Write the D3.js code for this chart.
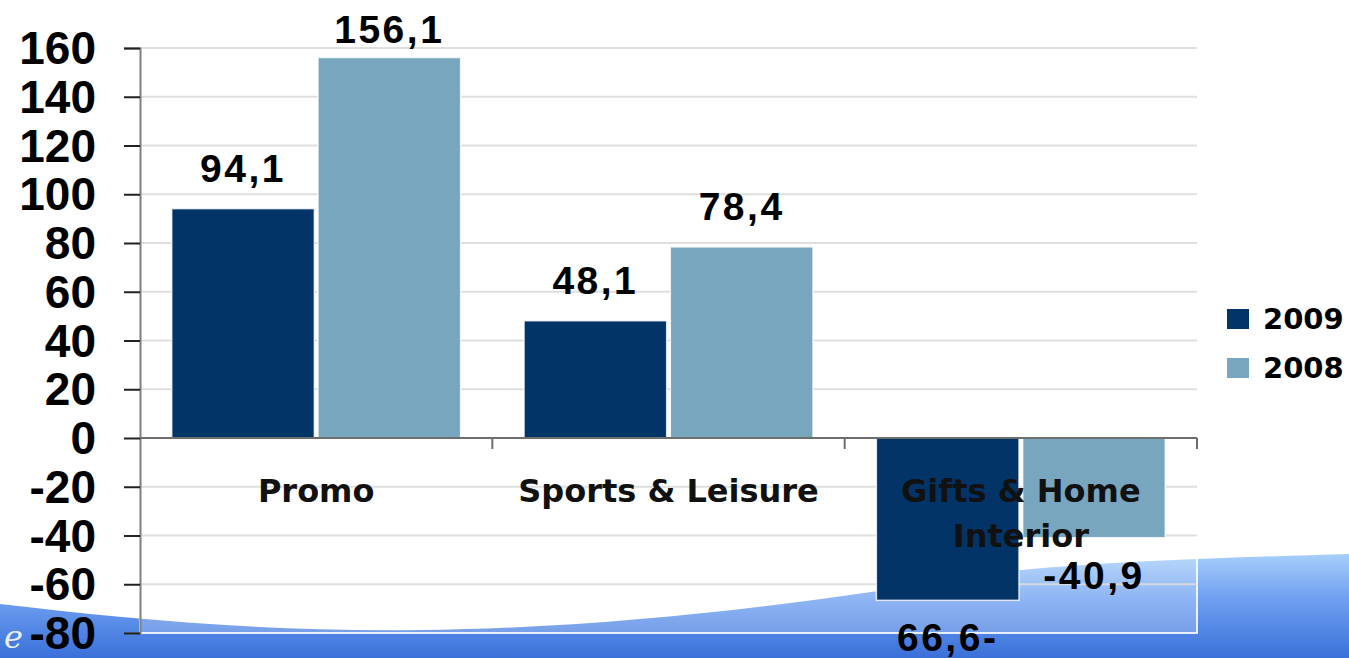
<!DOCTYPE html>
<html>
<head>
<meta charset="utf-8">
<script src="https://cdn.jsdelivr.net/npm/d3@7"></script>
<style>
  html, body { margin: 0; padding: 0; background: #ffffff; overflow: hidden; }
  svg { display: block; }
</style>
</head>
<body>
<div id="winArea"></div>
<script>
// chart data
const categories = ["Promo", "Sports & Leisure", "Gifts & Home Interior"];
const categoryLines = [["Promo"], ["Sports & Leisure"], ["Gifts & Home", "Interior"]];
const seriesNames = ["2009", "2008"];
const values2009 = [94.1, 48.1, -66.6];
const values2008 = [156.1, 78.4, -40.9];
const labels2009 = ["94,1", "48,1", "66,6-"];
const labels2008 = ["156,1", "78,4", "-40,9"];
const yTicks = [-80, -60, -40, -20, 0, 20, 40, 60, 80, 100, 120, 140, 160];

const colors = ["#033468", "#78a6bf"];

const W = 1349, H = 658;
const plot = { left: 140, right: 1197, top: 48, bottom: 633 };

const svg = d3.select("#winArea")
    .append("svg")
    .attr("width", W)
    .attr("height", H);

// background swoosh
const defs = svg.append("defs");
const grad = defs.append("linearGradient")
    .attr("id", "swoosh")
    .attr("gradientUnits", "userSpaceOnUse")
    .attr("x1", 0).attr("y1", 552).attr("x2", 0).attr("y2", 658);
grad.append("stop").attr("offset", "0%").attr("stop-color", "#a9d0fb");
grad.append("stop").attr("offset", "45%").attr("stop-color", "#6e9ff0");
grad.append("stop").attr("offset", "100%").attr("stop-color", "#3a70d9");

svg.append("path")
    .attr("d", "M0,604 C120,618 260,632 420,630 C620,628 820,602 1000,572 C1120,560 1250,557 1349,554 L1349,658 L0,658 Z")
    .attr("fill", "url(#swoosh)");

// plot area (slightly transparent white)
svg.append("rect")
    .attr("x", plot.left)
    .attr("y", plot.top)
    .attr("width", plot.right - plot.left)
    .attr("height", plot.bottom - plot.top)
    .attr("fill", "#ffffff")
    .attr("fill-opacity", 0.22)
    .attr("stroke", "#ffffff")
    .attr("stroke-opacity", 0.85)
    .attr("stroke-width", 2);

//scales
const yScale = d3.scaleLinear()
    .domain([-80, 160])
    .range([plot.bottom, plot.top]);

const x0 = d3.scaleBand()
    .domain(categories)
    .range([plot.left, plot.right])
    .paddingInner(0.18)
    .paddingOuter(0.09);

const x1 = d3.scaleBand()
    .domain(seriesNames)
    .range([0, x0.bandwidth()])
    .paddingInner(0.025);

const catStep = (plot.right - plot.left) / categories.length;

// gridlines
svg.append("g")
    .selectAll("line")
    .data(yTicks.filter(d => d !== 0 && d !== -80))
    .join("line")
    .attr("x1", plot.left)
    .attr("x2", plot.right)
    .attr("y1", d => yScale(d))
    .attr("y2", d => yScale(d))
    .attr("stroke", "#dcdcdc")
    .attr("stroke-opacity", 0.9)
    .attr("stroke-width", 2);

// bars
const rows = categories.map((c, i) => ({
    cat: c,
    vals: [
        { s: seriesNames[0], v: values2009[i], label: labels2009[i] },
        { s: seriesNames[1], v: values2008[i], label: labels2008[i] }
    ]
}));

const groups = svg.append("g")
    .selectAll("g")
    .data(rows)
    .join("g")
    .attr("transform", d => `translate(${x0(d.cat)},0)`);

groups.selectAll("rect")
    .data(d => d.vals)
    .join("rect")
    .attr("x", d => x1(d.s))
    .attr("width", x1.bandwidth())
    .attr("y", d => yScale(Math.max(0, d.v)))
    .attr("height", d => Math.abs(yScale(d.v) - yScale(0)))
    .attr("fill", (d, i) => colors[i])
    .attr("stroke", "#ffffff")
    .attr("stroke-opacity", 0.8)
    .attr("stroke-width", 1.5);

// y axis
const yAxis = svg.append("g")
    .attr("transform", `translate(${plot.left},0)`)
    .call(d3.axisLeft(yScale).tickValues(yTicks).tickSize(16).tickFormat(d3.format("d")));

yAxis.select(".domain").attr("stroke", "#7f7f7f").attr("stroke-width", 2);
yAxis.selectAll(".tick line").attr("stroke", "#222").attr("stroke-width", 2);
yAxis.selectAll(".tick text")
    .attr("x", -44)
    .attr("dy", "0.34em")
    .style("font-family", "'Liberation Sans', Arial, sans-serif")
    .style("font-weight", "bold")
    .style("font-size", "46px")
    .style("fill", "#000")
    .text(d => d < 0 ? "-" + Math.abs(d) : d);

// zero line and category ticks
svg.append("line")
    .attr("x1", plot.left)
    .attr("x2", plot.right)
    .attr("y1", yScale(0))
    .attr("y2", yScale(0))
    .attr("stroke", "#6e6e6e")
    .attr("stroke-width", 2);

svg.append("g")
    .selectAll("line")
    .data(categories)
    .join("line")
    .attr("x1", (d, i) => plot.left + catStep * (i + 1))
    .attr("x2", (d, i) => plot.left + catStep * (i + 1))
    .attr("y1", yScale(0))
    .attr("y2", yScale(0) + 11)
    .attr("stroke", "#6e6e6e")
    .attr("stroke-width", 2);

// category labels
const catLabels = svg.append("g")
    .selectAll("text")
    .data(categories)
    .join("text")
    .attr("x", d => x0(d) + x0.bandwidth() / 2)
    .attr("y", yScale(0) + 64)
    .attr("text-anchor", "middle")
    .style("font-family", "'DejaVu Sans', Verdana, sans-serif")
    .style("font-weight", "bold")
    .style("font-size", "32px")
    .style("fill", "#111");

catLabels.each(function (d, i) {
    d3.select(this).selectAll("tspan")
        .data(categoryLines[i])
        .join("tspan")
        .attr("x", x0(d) + x0.bandwidth() / 2)
        .attr("dy", (t, j) => j === 0 ? 0 : 45)
        .text(t => t);
});

// value labels
groups.selectAll("text.value")
    .data(d => d.vals)
    .join("text")
    .attr("class", "value")
    .attr("x", d => x1(d.s) + x1.bandwidth() / 2)
    .attr("y", d => d.v >= 0 ? Math.max(yScale(d.v) - 27, 43) : yScale(d.v) + 51)
    .attr("text-anchor", "middle")
    .style("font-family", "'Liberation Sans', Arial, sans-serif")
    .style("font-weight", "bold")
    .style("font-size", "39px")
    .style("letter-spacing", "2.5px")
    .style("fill", "#000")
    .text(d => d.label);

// legend
const legend = svg.append("g")
    .attr("transform", "translate(1227, 309)");

const legendItem = legend.selectAll("g")
    .data(seriesNames)
    .join("g")
    .attr("transform", (d, i) => `translate(0, ${i * 49})`);

legendItem.append("rect")
    .attr("width", 22)
    .attr("height", 20)
    .attr("fill", (d, i) => colors[i]);

legendItem.append("text")
    .attr("x", 36)
    .attr("y", 20)
    .style("font-family", "'DejaVu Sans', Verdana, sans-serif")
    .style("font-weight", "bold")
    .style("font-size", "29px")
    .style("fill", "#000")
    .text(d => d);

// bit of the logo in the corner
svg.append("text")
    .attr("x", 4)
    .attr("y", 648)
    .style("font-family", "'DejaVu Serif', serif")
    .style("font-style", "italic")
    .style("font-size", "32px")
    .style("fill", "#ffffff")
    .style("fill-opacity", 0.9)
    .text("e");
</script>
</body>
</html>
